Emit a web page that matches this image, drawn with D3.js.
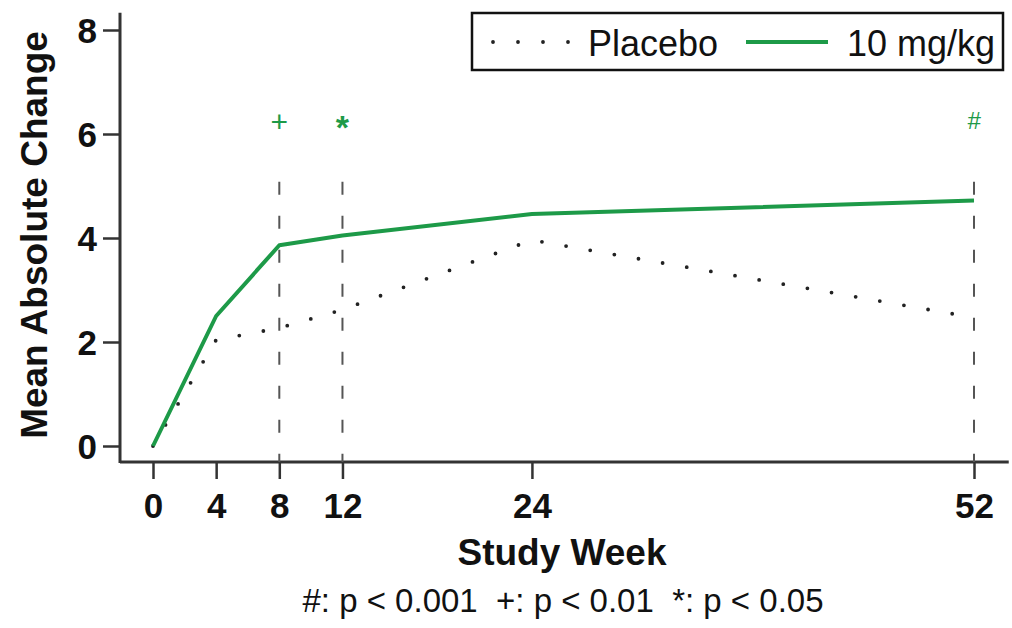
<!DOCTYPE html>
<html>
<head>
<meta charset="utf-8">
<script src="https://cdn.jsdelivr.net/npm/d3@7"></script>
<style>
  body { margin: 0; background: #fff; }
  text { font-family: "Liberation Sans", Arial, sans-serif; }
</style>
</head>
<body>
<div id="chart"></div>
<script>
// data
var weeks = [0, 4, 8, 12, 24, 52];
var placebo = [0, 2.04, 2.27, 2.62, 3.96, 2.47];
var drug = [0, 2.5, 3.86, 4.05, 4.46, 4.72];
var yTicks = [0, 2, 4, 6, 8];
var sigWeeks = [8, 12, 52];
var sigMarks = ["+", "*", "#"];
var seriesNames = ["Placebo", "10 mg/kg"];
var footnote = "#: p < 0.001  +: p < 0.01  *: p < 0.05";

var svgWidth = 1012;
var svgHeight = 628;
var green = "#1d9a48";
var axisColor = "#333";

var svg = d3.select("#chart")
  .append("svg")
  .attr("width", svgWidth)
  .attr("height", svgHeight);

var xScale = d3.scaleLinear()
  .domain([0, 52])
  .range([153, 974]);

var yScale = d3.scaleLinear()
  .domain([0, 8])
  .range([446, 30]);

var axisX = 120;
var axisY = 462;

// axes
var leftAxis = d3.axisLeft(yScale)
  .tickValues(yTicks)
  .tickSize(17)
  .tickPadding(6);

var yAxis = svg.append("g")
  .attr("transform", `translate(${axisX}, 0)`)
  .call(leftAxis);

var bottomAxis = d3.axisBottom(xScale)
  .tickValues(weeks)
  .tickSize(17)
  .tickPadding(14);

var xAxis = svg.append("g")
  .attr("transform", `translate(0, ${axisY})`)
  .call(bottomAxis);

[yAxis, xAxis].forEach(function(ax) {
  ax.select(".domain").remove();
  ax.selectAll(".tick line")
    .attr("stroke", axisColor)
    .attr("stroke-width", 2.5);
  ax.selectAll(".tick text")
    .attr("fill", "#111")
    .attr("font-size", 35)
    .attr("font-weight", "bold");
});
yAxis.selectAll(".tick text").attr("dy", "0.36em");

// axis lines
svg.append("line")
  .attr("x1", axisX).attr("x2", axisX)
  .attr("y1", yScale(8.33)).attr("y2", axisY + 1)
  .attr("stroke", axisColor)
  .attr("stroke-width", 3);

svg.append("line")
  .attr("x1", axisX).attr("x2", xScale(54.2))
  .attr("y1", axisY).attr("y2", axisY)
  .attr("stroke", axisColor)
  .attr("stroke-width", 3);

// dashed reference lines at significant weeks
svg.selectAll(".refline")
  .data(sigWeeks)
  .enter()
  .append("line")
  .attr("class", "refline")
  .attr("x1", d => xScale(d)).attr("x2", d => xScale(d))
  .attr("y1", yScale(5.08)).attr("y2", axisY)
  .attr("stroke", "#555")
  .attr("stroke-width", 2)
  .attr("stroke-dasharray", "13,21");

// significance markers
var sig = svg.selectAll(".sig")
  .data(sigWeeks)
  .enter()
  .append("text")
  .attr("class", "sig")
  .attr("x", d => xScale(d))
  .attr("y", yScale(6.23))
  .attr("text-anchor", "middle")
  .attr("fill", green)
  .text((d, i) => sigMarks[i]);

sig.filter((d, i) => sigMarks[i] === "+")
  .attr("font-size", 30)
  .attr("dy", "0.33em");
sig.filter((d, i) => sigMarks[i] === "*")
  .attr("font-size", 34)
  .attr("font-weight", "bold")
  .attr("dy", "0.5em");
sig.filter((d, i) => sigMarks[i] === "#")
  .attr("font-size", 24)
  .attr("font-style", "italic")
  .attr("dy", "0.3em");

// lines
var line = d3.line()
  .x((d, i) => xScale(weeks[i]))
  .y(d => yScale(d));

svg.append("path")
  .datum(placebo)
  .attr("d", line)
  .attr("fill", "none")
  .attr("stroke", "#222")
  .attr("stroke-width", 3.8)
  .attr("stroke-linecap", "round")
  .attr("stroke-dasharray", "0,24.5");

svg.append("path")
  .datum(drug)
  .attr("d", line)
  .attr("fill", "none")
  .attr("stroke", green)
  .attr("stroke-width", 4)
  .attr("stroke-linejoin", "round");

// legend
var legend = svg.append("g");

legend.append("rect")
  .attr("x", 472)
  .attr("y", 13)
  .attr("width", 531)
  .attr("height", 57)
  .attr("fill", "#fff")
  .attr("stroke", "#111")
  .attr("stroke-width", 2.5);

legend.append("line")
  .attr("x1", 493).attr("x2", 569)
  .attr("y1", 42).attr("y2", 42)
  .attr("stroke", "#222")
  .attr("stroke-width", 3.8)
  .attr("stroke-linecap", "round")
  .attr("stroke-dasharray", "0,25");

legend.append("text")
  .attr("x", 588)
  .attr("y", 56)
  .attr("font-size", 36)
  .attr("fill", "#111")
  .text(seriesNames[0]);

legend.append("line")
  .attr("x1", 746).attr("x2", 828)
  .attr("y1", 42).attr("y2", 42)
  .attr("stroke", green)
  .attr("stroke-width", 4);

legend.append("text")
  .attr("x", 847)
  .attr("y", 56)
  .attr("font-size", 36)
  .attr("fill", "#111")
  .text(seriesNames[1]);

// axis titles
svg.append("text")
  .attr("x", 562)
  .attr("y", 565)
  .attr("text-anchor", "middle")
  .attr("font-size", 37)
  .attr("font-weight", "bold")
  .attr("fill", "#111")
  .text("Study Week");

svg.append("text")
  .attr("transform", "rotate(-90)")
  .attr("x", -235)
  .attr("y", 47)
  .attr("text-anchor", "middle")
  .attr("font-size", 37)
  .attr("font-weight", "bold")
  .attr("fill", "#111")
  .text("Mean Absolute Change");

svg.append("text")
  .attr("x", 563)
  .attr("y", 612)
  .attr("text-anchor", "middle")
  .attr("font-size", 33)
  .attr("fill", "#111")
  .style("white-space", "pre")
  .text(footnote);
</script>
</body>
</html>
